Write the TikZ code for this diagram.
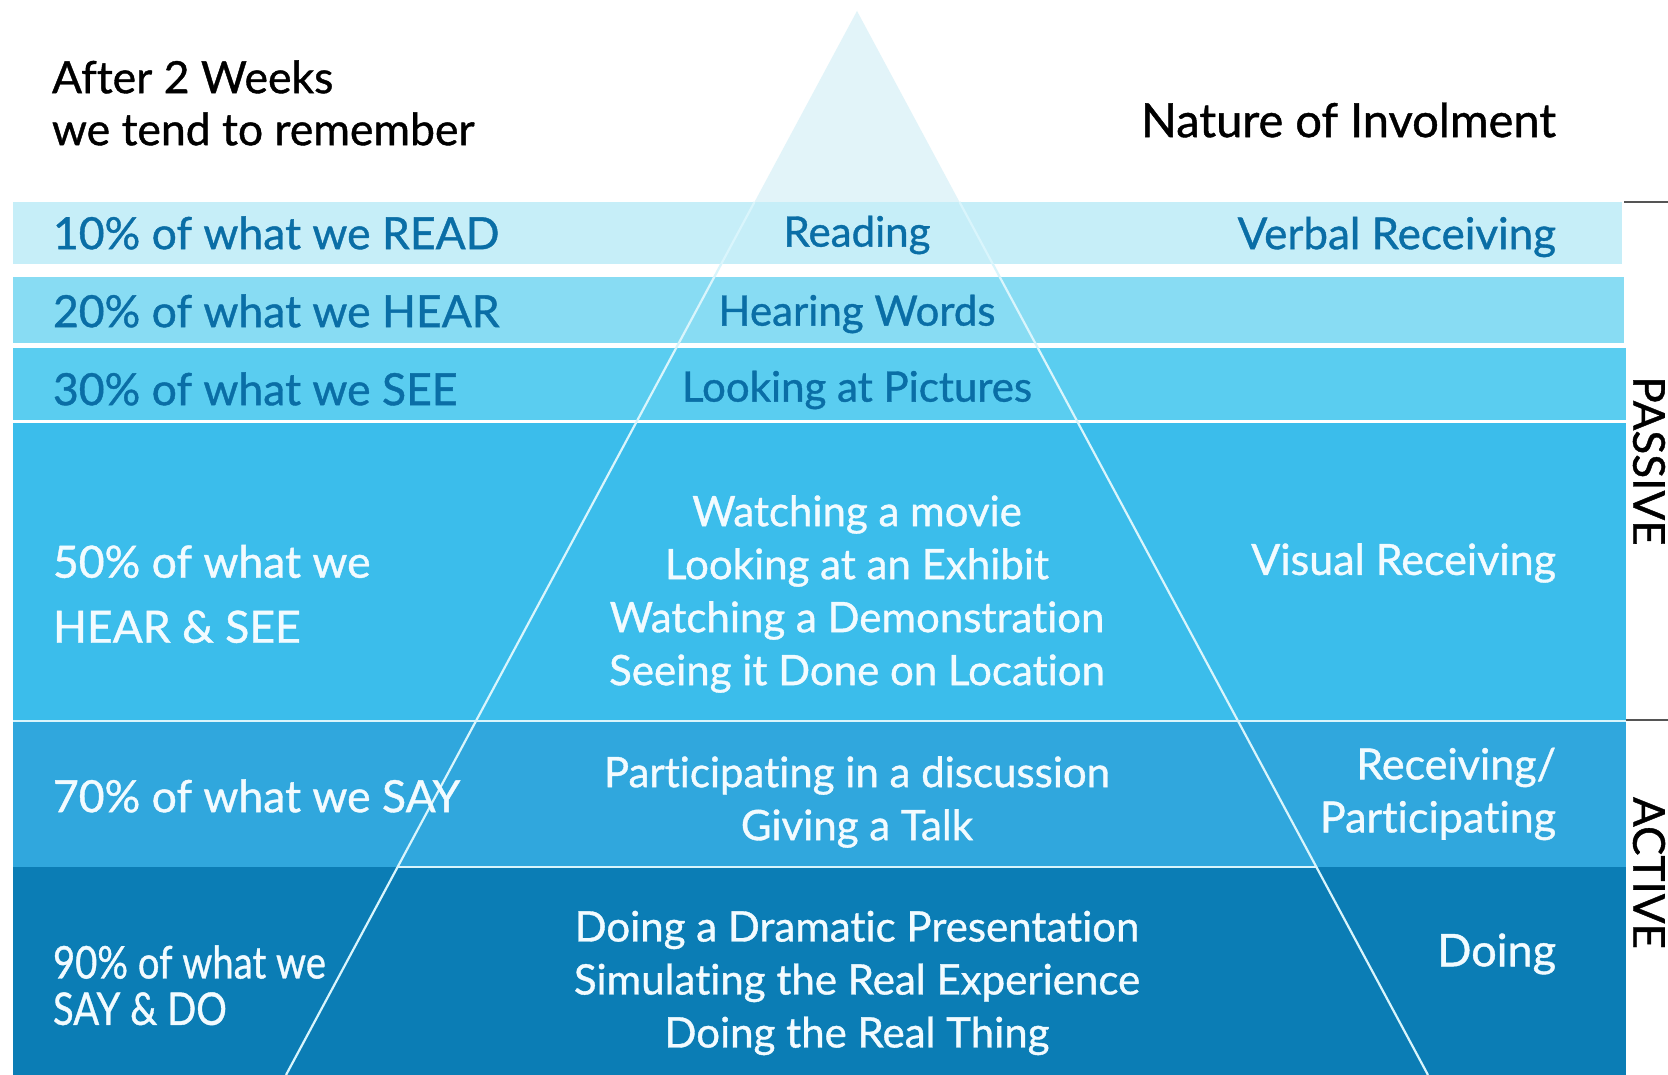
\documentclass[tikz,border=0pt]{standalone}
\usepackage{fontspec}
\setmainfont{Lato}[FakeBold=0.9, Ligatures=NoCommon]
\usetikzlibrary{calc}
\definecolor{tri}{HTML}{E2F4F9}
\definecolor{bA}{HTML}{C6EEF8}
\definecolor{bB}{HTML}{88DCF3}
\definecolor{bC}{HTML}{5ACDF0}
\definecolor{bD}{HTML}{3BBDEB}
\definecolor{bE}{HTML}{30A7DD}
\definecolor{bF}{HTML}{0B7DB5}
\definecolor{dtxt}{HTML}{0A6EA6}
\definecolor{wtxt}{HTML}{F2FBFF}
\definecolor{pline}{HTML}{D9F5FC}
\definecolor{brk}{HTML}{555555}
\begin{document}
\begin{tikzpicture}[x=1pt,y=-1pt,
  every node/.style={inner sep=0pt, outer sep=0pt},
  lefta/.style={anchor=west, text=dtxt, font=\fontsize{44.5}{50}\selectfont},
  leftb/.style={anchor=west, text=wtxt, align=left, font=\fontsize{44.5}{65}\selectfont},
  mida/.style={anchor=center, text=dtxt, font=\fontsize{42}{50}\selectfont},
  midb/.style={anchor=center, text=wtxt, align=center, font=\fontsize{42}{53}\selectfont},
  righta/.style={anchor=east, text=dtxt, font=\fontsize{44}{50}\selectfont},
  rightb/.style={anchor=east, text=wtxt, align=right, font=\fontsize{43}{53}\selectfont},
  head/.style={text=black, font=\fontsize{44.5}{52}\selectfont},
  side/.style={text=black, font=\fontsize{44}{44}\selectfont, rotate=-90},
  pyr/.style={draw=pline, line width=2.2pt},
  sep/.style={draw=pline, line width=2pt},
  brack/.style={draw=brk, line width=1.5pt}]
\useasboundingbox (0,0) rectangle (1668,1075);
\fill[white] (0,0) rectangle (1668,1075);
% pyramid corners
\coordinate (apex) at (857,11);
\coordinate (bl) at (286,1075);
\coordinate (br) at (1428,1075);
\coordinate (tl) at ($(apex)!0.17951!(bl)$);
\coordinate (tr) at ($(apex)!0.17951!(br)$);
\coordinate (ml) at ($(apex)!0.8045!(bl)$);
\coordinate (mr) at ($(apex)!0.8045!(br)$);
% top of pyramid
\fill[tri] (apex) -- (tl) -- (tr) -- cycle;
% bands
\fill[bA] (13,202) rectangle (1622,264);
\fill[bB] (13,277) rectangle (1624,343);
\fill[bC] (13,348) rectangle (1626,420);
\fill[bD] (13,423) rectangle (1626,720);
\fill[bE] (13,720) rectangle (1626,867);
\fill[bF] (13,867) rectangle (1626,1075);
% band separators
\coordinate (s1) at (13,721);
\coordinate (s2) at (1626,721);
\draw[sep] (s1) -- (s2);
\draw[sep] (ml) -- (mr);
% pyramid edges
\draw[pyr] (tl) -- (bl);
\draw[pyr] (tr) -- (br);
% bracket
\coordinate (k1) at (1624,202);
\coordinate (k2) at (1668,202);
\coordinate (k3) at (1626,720);
\coordinate (k4) at (1668,720);
\draw[brack] (k1) -- (k2);
\draw[brack] (k3) -- (k4);
\node[side] (passive) at (1649,461) {PASSIVE};
\node[side] (active) at (1649,873) {ACTIVE};
% headings
\node[head, anchor=west, align=left] (after) at (52,103) {After 2 Weeks\\we tend to remember};
\node[head, anchor=east, font=\fontsize{47}{52}\selectfont] (nature) at (1556,120) {Nature of Involment};
% left column
\node[lefta] (l1) at (53,233) {10\% of what we READ};
\node[lefta] (l2) at (53,311) {20\% of what we HEAR};
\node[lefta] (l3) at (53,389) {30\% of what we SEE};
\node[leftb] (l4) at (53,594) {50\% of what we\\HEAR \& SEE};
\node[lefta, text=wtxt] (l5) at (53,796) {70\% of what we SAY};
\node[anchor=west, text=wtxt, font=\fontsize{45}{46}\selectfont] (l6) at (53,992)
  {\scalebox{0.85}[1]{\begin{tabular}{@{}l@{}}90\% of what we\\SAY \& DO\end{tabular}}};
% middle column
\node[mida] (m1) at (857,235) {Reading};
\node[mida] (m2) at (857,314) {Hearing Words};
\node[mida] (m3) at (857,390) {Looking at Pictures};
\node[midb] (m4) at (857,594) {Watching a movie\\Looking at an Exhibit\\Watching a Demonstration\\Seeing it Done on Location};
\node[midb] (m5) at (857,802) {Participating in a discussion\\Giving a Talk};
\node[midb] (m6) at (857,983) {Doing a Dramatic Presentation\\Simulating the Real Experience\\Doing the Real Thing};
% right column
\node[righta] (r1) at (1556,237) {Verbal Receiving};
\node[righta, text=wtxt, font=\fontsize{43}{50}\selectfont] (r4) at (1556,563) {Visual Receiving};
\node[rightb] (r5) at (1556,794) {Receiving/\\Participating};
\node[righta, text=wtxt, font=\fontsize{45}{50}\selectfont] (r6) at (1556,954) {Doing};
\end{tikzpicture}
\end{document}
